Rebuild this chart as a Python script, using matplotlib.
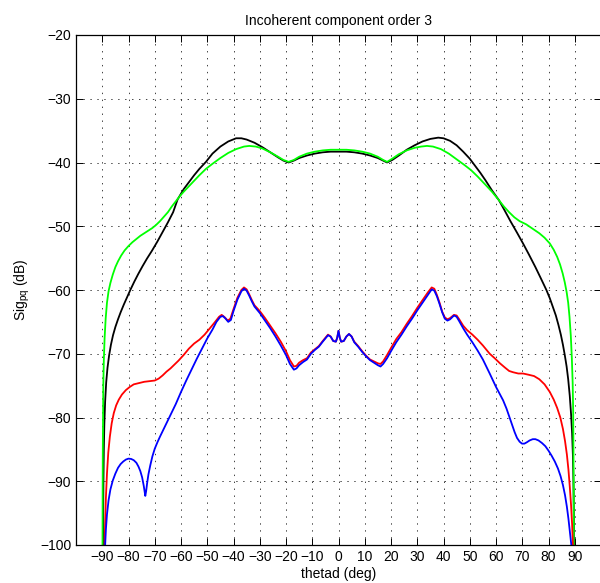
import matplotlib
matplotlib.use("Agg")
import matplotlib.pyplot as plt

plt.rcParams['font.family'] = ['Liberation Sans', 'DejaVu Sans']
plt.rcParams['lines.scale_dashes'] = False

# ---- data (theta in deg, Sig in dB) ----
black_x = [-89.7, -89.65, -89.55, -89.4, -89.2, -88.9, -88.5, -88.0, -87.4, -86.7, -85.9, -85.0, -84.0,
           -83.0, -81.8, -80.5, -79.2, -77.8, -76.3, -74.7, -73, -71, -69, -67, -65, -63, -61.3, -59,
           -57, -55, -53, -50.5, -48, -45, -42, -39, -37, -35, -32, -29, -26, -23, -21, -19, -17, -15,
           -12, -9, -6, -3, 0,
           3, 6, 9, 12, 15, 17, 18.5, 20.5, 23, 26, 29, 32, 35, 38, 40, 42.5, 45, 47.5, 50, 52, 54, 56,
           58.5, 61.1, 63, 65.5, 68, 70.3, 72.5, 75, 77, 79.2, 80.5, 81.7, 82.8, 83.8, 84.7, 85.5, 86.2,
           86.9, 87.5, 88.1, 88.6, 89.0, 89.3, 89.5, 89.65, 89.7]
black_y = [-100, -95, -90, -85, -81, -77.5, -74.5, -72.2, -70.3, -68.6, -67.1, -65.8, -64.6,
           -63.5, -62.3, -61.1, -59.9, -58.7, -57.5, -56.3, -55.1, -53.8, -52.4, -50.9, -49.4, -47.8,
           -45.8, -44.2, -43.1, -42.0, -41.0, -39.9, -38.6, -37.5, -36.7, -36.2, -36.2, -36.4, -36.9,
           -37.6, -38.4, -39.2, -39.7, -40.0, -39.7, -39.3, -38.9, -38.6, -38.4, -38.3, -38.3,
           -38.3, -38.4, -38.6, -38.9, -39.3, -39.7, -40.0, -39.6, -38.9, -38.0, -37.3, -36.7, -36.3,
           -36.1, -36.2, -36.6, -37.3, -38.3, -39.4, -40.5, -41.6, -42.8, -44.4, -45.9, -47.3, -49.2,
           -51.0, -52.7, -54.4, -56.4, -58.1, -60.0, -61.3, -62.7, -64.0, -65.5, -67.0, -68.6, -70.2,
           -72.0, -74.0, -76.6, -79.5, -82.5, -86, -90, -95, -100]

green_x = [-89.9, -89.85, -89.8, -89.7, -89.6, -89.4, -89.1, -88.7, -88.2, -87.6, -86.9, -86.0, -85.0,
           -84.0, -82.8, -81.5, -80, -78.5, -77, -75.5, -74, -72.5, -71, -69.5, -68, -66.5, -65, -63.5,
           -62, -60.5, -59, -56, -53, -50.5, -48, -45, -42, -39, -36, -34, -31.5, -29, -26, -23, -21,
           -19, -17, -15, -12, -9, -6, -3, 0,
           3, 6, 9, 12, 15, 17, 18.5, 20.5, 23, 26, 29, 31.5, 33.7, 36, 39, 42, 45, 48, 50.5, 53, 56,
           58.5, 61.1, 63, 65, 67, 69, 71.5, 74, 76.5, 78.5, 80.5, 82, 83.3, 84.4, 85.4, 86.2, 86.9,
           87.5, 88.0, 88.5, 88.9, 89.2, 89.4, 89.5, 89.6, 89.65]
green_y = [-100, -92, -86, -80, -75, -71, -67.5, -64.5, -62.0, -60.2, -58.9, -57.6, -56.4,
           -55.5, -54.6, -53.8, -53.1, -52.5, -52.0, -51.5, -51.1, -50.7, -50.3, -49.8, -49.2, -48.5,
           -47.8, -46.9, -46.1, -45.3, -44.6, -43.3, -42.0, -41.0, -40.2, -39.3, -38.5, -37.9, -37.5,
           -37.4, -37.5, -37.8, -38.4, -39.1, -39.6, -39.9, -39.6, -39.1, -38.6, -38.3, -38.1, -38.0,
           -38.0,
           -38.0, -38.1, -38.3, -38.6, -39.1, -39.6, -39.9, -39.4, -38.7, -38.1, -37.7, -37.5, -37.4,
           -37.5, -37.9, -38.6, -39.5, -40.4, -41.2, -42.2, -43.5, -44.6, -45.9, -46.9, -47.8, -48.6,
           -49.2, -49.7, -50.4, -51.1, -51.8, -52.7, -53.7, -54.8, -56.0, -57.4, -58.8, -60.3,
           -62.0, -64.2, -67.2, -70.8, -74.5, -79, -85, -92, -100]

red_x = [-89.1, -88.9, -88.6, -88.2, -87.7, -87.1, -86.4, -85.6, -84.7, -83.7, -82.5, -81, -79.5,
         -78, -76, -74, -72, -70, -68.5, -67, -65.5, -64, -62.5, -61, -59, -57, -55, -53, -51, -49, -47,
         -45.5, -44.5, -43.3, -42.2, -41.2, -40, -38.5, -37, -36, -35, -34, -33, -32, -30, -28, -26,
         -24, -22, -20, -18.5, -17, -16, -15, -13.5, -12, -10.5, -9, -7.5, -6, -4, -3, -2, -1, -0.5,
         0, 0.5, 1, 2, 3, 4, 5, 6, 7.5, 9, 10.5, 12, 13.5, 15, 16, 17, 18.5, 20, 22, 24, 26, 28, 30,
         32, 34, 35.5, 36.5, 37.5, 38.5, 39.5, 40.5, 41.5, 42.5, 44, 45, 46, 47.5, 49, 51, 53, 55,
         57.6, 59.5, 61.5, 63.5, 65, 66.5, 68.5, 70.3, 72.5, 74.5, 76.5, 78.5, 80.5, 82, 83.3, 84.5,
         85.5, 86.3, 87, 87.6, 88.1, 88.6, 89.0, 89.3]
red_y = [-100, -96.5, -92.5, -88.8, -85.5, -83.0, -80.9, -79.3, -78.1, -77.2, -76.4, -75.7, -75.2,
         -74.8, -74.6, -74.4, -74.3, -74.2, -73.9, -73.4, -72.8, -72.3, -71.7, -71.1, -70.2, -69.2,
         -68.4, -67.8, -67.0, -66.0, -65.0, -64.2, -63.9, -64.3, -64.8, -64.5, -63.0, -61.2, -60.0,
         -59.6, -59.9, -60.7, -61.6, -62.4, -63.3, -64.4, -65.6, -66.8, -68.1, -69.6, -71.0, -72.0,
         -71.9, -71.4, -71.0, -70.7, -69.8, -69.3, -68.8, -68.0, -67.0, -67.3, -68.0, -68.1, -67.5,
         -66.4, -67.5, -68.1, -68.0, -67.3, -66.9, -67.3, -68.1, -68.8, -69.6, -70.3, -70.9, -71.2,
         -71.5, -71.6, -71.2, -70.2, -69.1, -67.7, -66.6, -65.3, -64.1, -62.8, -61.6, -60.4, -59.6,
         -59.8, -60.8, -62.0, -63.4, -64.3, -64.6, -64.4, -63.9, -64.0, -64.6, -65.6, -66.3, -67.0,
         -67.8, -68.7, -70.0, -70.7, -71.5, -72.2, -72.7, -72.9, -73.1, -73.1, -73.3, -73.5, -74.0,
         -74.8, -76.0, -77.2, -78.5, -80.0, -81.8, -83.7, -85.8, -88.2, -90.8, -93.8, -96.8, -100]

blue_x = [-88.9, -88.6, -88.2, -87.6, -86.9, -86.0, -85.0, -84.0, -83.0, -82.0, -81.0, -80.0, -79.0,
          -78.0, -77.0, -76.2, -75.5, -74.8, -74.2, -73.8, -73.6, -73.3, -72.9, -72.4, -71.7, -70.9,
          -70.0, -69, -68, -66, -64, -62, -60, -58, -56, -54, -52, -50, -48, -46.5, -45, -44, -43, -42,
          -41, -40, -38.5, -37, -36, -35, -34, -33, -32, -30, -28, -26, -24, -22, -20, -18.5, -17, -16,
          -15, -13.5, -12, -10.5, -9, -7.5, -6, -4, -3, -2, -1, -0.5, 0, 0.5, 1, 2, 3, 4, 5, 6, 7.5, 9,
          10.5, 12, 13.5, 15, 16, 17, 18.5, 20, 22, 24, 26, 28, 30, 32, 34, 35.5, 36.5, 37.5, 38.5,
          39.5, 40.5, 41.5, 42.5, 44, 45, 46, 47.5, 49, 51, 53, 55, 57.6, 60, 62.7, 64, 65, 66, 67.1,
          68, 69, 69.9, 70.8, 71.7, 72.8, 74, 75, 76.2, 77.5, 78.8, 80, 81.2, 82.4, 83.6, 84.6, 85.5,
          86.3, 87, 87.6, 88.1, 88.5, 88.7]
blue_y = [-100, -97.5, -95.2, -93.0, -91.3, -89.9, -88.8, -87.9, -87.3, -86.9, -86.6, -86.45, -86.5,
          -86.7, -87.1, -87.7, -88.4, -89.4, -90.7, -91.8, -92.3, -91.6, -90.3, -88.9, -87.5, -86.1,
          -84.9, -83.9, -83.0, -81.3, -79.6, -77.9, -76.0, -74.2, -72.5, -70.8, -69.2, -67.6, -66.2,
          -65.0, -64.2, -64.1, -64.5, -65.0, -64.7, -63.3, -61.5, -60.2, -59.8, -60.1, -60.9, -61.8,
          -62.6, -63.6, -64.8, -66.0, -67.3, -68.7, -70.2, -71.6, -72.5, -72.3, -71.8, -71.3, -70.9,
          -70.0, -69.4, -68.9, -68.1, -67.1, -67.3, -68.0, -68.1, -67.5, -66.4, -67.5, -68.1, -68.0,
          -67.3, -66.9, -67.3, -68.2, -68.9, -69.7, -70.4, -71.0, -71.4, -71.8, -72.0, -71.6, -70.7,
          -69.6, -68.2, -67.0, -65.7, -64.5, -63.2, -62.0, -60.8, -59.9, -60.1, -61.0, -62.2, -63.5,
          -64.5, -64.8, -64.6, -64.0, -64.2, -64.9, -66.0, -67.0, -68.2, -69.5, -70.9, -73.1, -75.2,
          -77.3, -78.6, -79.8, -81.0, -82.3, -83.2, -83.8, -84.1, -84.1, -83.9, -83.6, -83.4, -83.4,
          -83.6, -84.0, -84.5, -85.2, -86.0, -86.9, -88.0, -89.2, -90.6, -92.2, -94.0, -95.9, -97.8,
          -99.4, -100]

x_ticks = list(range(-90, 91, 10))
y_ticks = list(range(-100, -19, 10))

title_text = "Incoherent component order 3"
x_label = "thetad (deg)"
y_label = r"Sig$_\mathregular{pq}$ (dB)"

# ---- figure ----
fig = plt.figure(figsize=(6.0, 5.83), dpi=100)
ax = fig.add_axes([76 / 600, 38 / 583, 525 / 600, 510 / 583])

lw = 1.3
style = dict(lw=lw, solid_joinstyle='round', solid_capstyle='round')
ax.plot(black_x, black_y, color='#000000', **style)
ax.plot(green_x, green_y, color='#00ff00', **style)
ax.plot(red_x, red_y, color='#ff0000', **style)
ax.plot(blue_x, blue_y, color='#0000ff', **style)

ax.set_xlim(-100, 100)
ax.set_ylim(-100, -20)
ax.set_xticks(x_ticks)
ax.set_yticks(y_ticks)
ax.grid(True, color='#222222', linestyle=(0, (1, 4)), linewidth=0.6)
ax.set_axisbelow(True)
ax.tick_params(direction='in', length=5, width=0.7, top=True, right=True,
               labelsize=10, colors='black')
for s in ax.spines.values():
    s.set_linewidth(0.9)

ax.set_title(title_text, fontsize=10, pad=7)
ax.set_xlabel(x_label, fontsize=10, labelpad=2)
ax.set_ylabel(y_label, fontsize=10, labelpad=6)

fig.savefig("out.png", dpi=100)
